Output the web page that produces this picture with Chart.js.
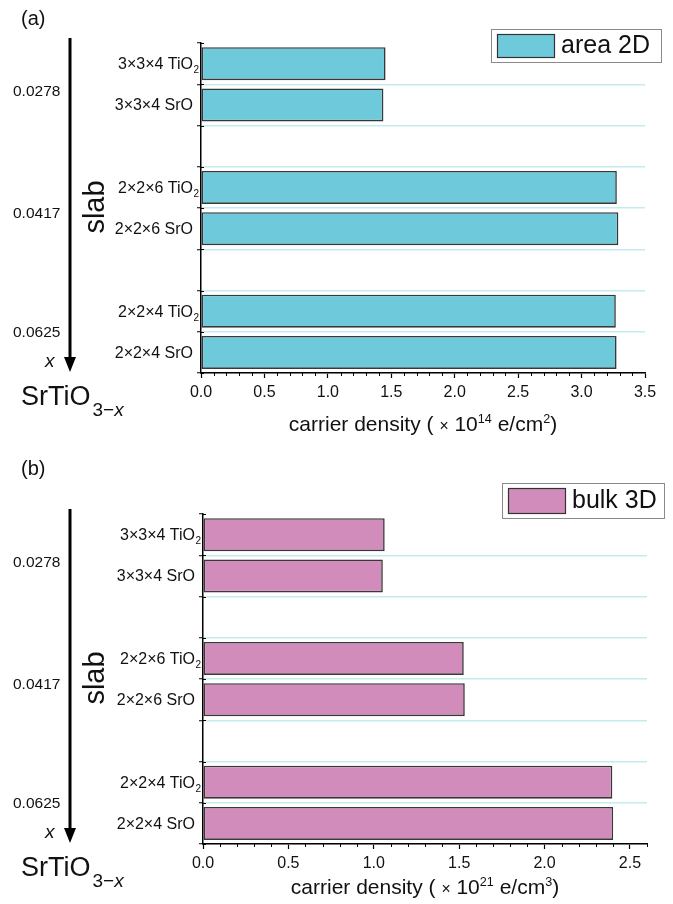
<!DOCTYPE html>
<html>
<head>
<meta charset="utf-8">
<script src="https://cdn.jsdelivr.net/npm/chart.js@4"></script>
<style>
  html,body{margin:0;padding:0;background:#fff;}
  body{width:673px;height:904px;position:relative;overflow:hidden;font-family:"Liberation Sans",Arial,sans-serif;color:#111;}
  .abs{position:absolute;white-space:nowrap;line-height:1;}
  canvas{position:absolute;left:0;}
  sup{font-size:0.6em;vertical-align:0.65em;line-height:0;}
</style>
</head>
<body>
<script>
// ---------- data ----------
const categories = ["3×3×4 TiO_2", "3×3×4 SrO", "", "2×2×6 TiO_2", "2×2×6 SrO", "", "2×2×4 TiO_2", "2×2×4 SrO"];
const area2D = [1.455, 1.438, null, 3.278, 3.290, null, 3.270, 3.276];
const bulk3D = [1.064, 1.053, null, 1.527, 1.533, null, 2.397, 2.402];
const vacancyX = ["0.0278", "0.0417", "0.0625"];
const seriesNames = ["area 2D", "bulk 3D"];
const xMaxA = 3.5, xMaxB = 2.6, xStep = 0.5, xMinorStep = 0.1;
</script>

<canvas id="cA" width="673" height="450" style="top:0"></canvas>
<canvas id="cB" width="673" height="433" style="top:471px"></canvas>

<svg class="abs" style="left:0;top:0" width="673" height="904">
  <line x1="70" y1="38" x2="70" y2="360" stroke="#000" stroke-width="3"/>
  <polygon points="64,357 76,357 70,372" fill="#000"/>
  <line x1="70" y1="509" x2="70" y2="831" stroke="#000" stroke-width="3"/>
  <polygon points="64,828 76,828 70,843" fill="#000"/>
</svg>

<div id="annot"></div>

<script>
const annot = document.getElementById('annot');
function addText(html, left, top, style) {
  const d = document.createElement('div');
  d.className = 'abs';
  d.innerHTML = html;
  d.style.left = left + 'px';
  d.style.top = top + 'px';
  if (style) d.style.cssText += style;
  annot.appendChild(d);
  return d;
}
// panel letters
addText('(a)', 21, 8, 'font-size:20px;');
addText('(b)', 21, 458, 'font-size:20px;');
// vacancy concentrations & left annotations for both panels
const xPos = [90.7, 212.7, 331.7];
[0, 471].forEach(off => {
  vacancyX.forEach((t, i) => addText(t, 13, off + xPos[i] - 8, 'font-size:15.5px;'));
  addText('slab', 94, off + 207, 'font-size:29px;transform:translate(-50%,-50%) rotate(-90deg);');
  addText('<i>x</i>', 45, off + 351, 'font-size:19px;');
  addText('SrTiO<span style="font-size:19px;position:relative;top:11px;margin-left:2px">3−<i>x</i></span>', 21, off + 383, 'font-size:27px;');
});
addText('carrier density ( <span style="font-size:0.75em">×</span> 10<sup>14</sup> e/cm<sup>2</sup>)', 200, 413, 'width:446px;text-align:center;font-size:21px;');
addText('carrier density ( <span style="font-size:0.75em">×</span> 10<sup>21</sup> e/cm<sup>3</sup>)', 203, 876, 'width:444px;text-align:center;font-size:21px;');

// ---------- chart helpers ----------
function drawRich(ctx, label, xr, py) {
  const parts = label.split('_');
  ctx.fillStyle = '#111';
  ctx.textBaseline = 'middle';
  ctx.textAlign = 'right';
  ctx.font = '16px "Liberation Sans", Arial, sans-serif';
  ctx.fillText(parts[0], xr, py + 1);
  if (parts[1]) {
    ctx.textAlign = 'left';
    ctx.font = '10px "Liberation Sans", Arial, sans-serif';
    ctx.fillText(parts[1], xr + 0.5, py + 7);
  }
}

const decorPlugin = {
  id: 'decor',
  afterDraw(chart, args, opts) {
    const ctx = chart.ctx;
    const xs = chart.scales.x, ys = chart.scales.y;
    ctx.save();
    // minor ticks
    ctx.strokeStyle = '#000';
    ctx.lineWidth = 1;
    const n = Math.round(xs.max / xMinorStep);
    for (let i = 0; i <= n; i++) {
      if (i % Math.round(xStep / xMinorStep) === 0) continue;
      const px = Math.round(xs.getPixelForValue(i * xMinorStep)) + 0.5;
      ctx.beginPath();
      ctx.moveTo(px, xs.top);
      ctx.lineTo(px, xs.top + 3);
      ctx.stroke();
    }
    // small tick marks on the inner side of the category axis
    const left = chart.chartArea.left;
    for (let i = 0; i <= categories.length; i++) {
      const py = Math.round(ys.getPixelForValue(i - 0.5)) + 0.5;
      ctx.beginPath();
      ctx.moveTo(left, py);
      ctx.lineTo(left + 3, py);
      ctx.stroke();
    }
    // category labels with subscripts
    categories.forEach((lab, i) => {
      if (!lab) return;
      drawRich(ctx, lab, left - 8, ys.getPixelForValue(i));
    });
    // legend
    const L = opts.legend;
    const ds = chart.data.datasets[0];
    ctx.fillStyle = '#fff';
    ctx.fillRect(L.x, L.y, L.w, L.h);
    ctx.strokeStyle = '#8a8a8a';
    ctx.lineWidth = 1;
    ctx.strokeRect(L.x + 0.5, L.y + 0.5, L.w, L.h);
    ctx.fillStyle = ds.backgroundColor;
    ctx.fillRect(L.x + 6, L.y + 5, 57, L.h - 10);
    ctx.strokeStyle = '#333';
    ctx.lineWidth = 1.2;
    ctx.strokeRect(L.x + 6.5, L.y + 5.5, 57, L.h - 10);
    ctx.fillStyle = '#111';
    ctx.font = '25px "Liberation Sans", Arial, sans-serif';
    ctx.textAlign = 'left';
    ctx.textBaseline = 'middle';
    ctx.fillText(ds.label, L.x + 70, L.y + L.h / 2 + 1);
    ctx.restore();
  }
};

function makeChart(id, values, name, color, xMax, yWidth, rightPad, xHeight, legend) {
  return new Chart(document.getElementById(id), {
    type: 'bar',
    data: {
      labels: categories,
      datasets: [{
        label: name,
        data: values,
        backgroundColor: color,
        borderColor: '#383838',
        borderWidth: 1.6,
        borderSkipped: false,
        barPercentage: 0.8,
        categoryPercentage: 1.0
      }]
    },
    options: {
      indexAxis: 'y',
      responsive: false,
      animation: false,
      devicePixelRatio: 1,
      layout: { padding: { left: 0, right: rightPad, top: 43, bottom: 0 } },
      plugins: { legend: { display: false }, tooltip: { enabled: false }, decor: { legend } },
      scales: {
        x: {
          type: 'linear',
          min: 0, max: xMax,
          afterFit: s => { s.height = xHeight; },
          ticks: {
            stepSize: xStep,
            includeBounds: false,
            padding: 5,
            color: '#111',
            font: { family: '"Liberation Sans", Arial, sans-serif', size: 16 },
            callback: v => Number(v).toFixed(1),
            maxRotation: 0
          },
          grid: { display: true, drawOnChartArea: false, drawTicks: true, tickLength: 5, tickColor: '#000', tickWidth: 1.2 },
          border: { display: true, color: '#000', width: 1.5 }
        },
        y: {
          afterFit: s => { s.width = yWidth; },
          ticks: { display: false },
          grid: {
            offset: true,
            color: c => (c.index === 0 || c.index === categories.length) ? 'rgba(0,0,0,0)' : '#c4ebf0',
            lineWidth: 1.5,
            tickLength: 4,
            tickColor: '#000',
            tickWidth: 1
          },
          border: { display: true, color: '#000', width: 1.5 }
        }
      }
    },
    plugins: [decorPlugin]
  });
}

makeChart('cA', area2D, seriesNames[0], '#6ecadb', xMaxA, 201, 28, 77, { x: 491, y: 29, w: 170, h: 33 });
makeChart('cB', bulk3D, seriesNames[1], '#d28cbc', xMaxB, 203, 26, 60, { x: 502, y: 12, w: 162, h: 35 });
</script>
</body>
</html>
